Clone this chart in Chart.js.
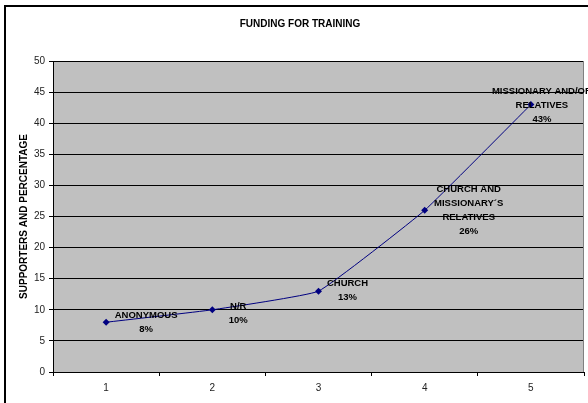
<!DOCTYPE html>
<html lang="en">
<head>
    <meta charset="UTF-8">
    <title>Funding for Training</title>
    <script src="https://cdn.jsdelivr.net/npm/chart.js"></script>
    <style>
        body {
            margin: 0;
            background: #fff;
        }
        canvas {
            display: block;
        }
    </style>
</head>
<body>

    <canvas id="fundingChart" width="588" height="403"></canvas>

    <script>
        // data
        const chartTitle = "FUNDING FOR TRAINING";
        const categories = ["1", "2", "3", "4", "5"];
        const supporters = [8, 10, 13, 26, 43];
        const pointLabels = [
            ["ANONYMOUS", "8%"],
            ["N/R", "10%"],
            ["CHURCH", "13%"],
            ["CHURCH AND", "MISSIONARY\u00B4S", "RELATIVES", "26%"],
            ["MISSIONARY AND/OR", "RELATIVES", "43%"]
        ];
        const yTicks = [0, 5, 10, 15, 20, 25, 30, 35, 40, 45, 50];

        // where each label sits relative to its point (first line centre)
        const labelShift = [[40, -7], [26, -3], [29, -8], [44, -21], [11, -13]];

        const frame = {
            id: "frame",
            beforeDraw(chart) {
                const { ctx, chartArea: a } = chart;
                ctx.save();
                ctx.fillStyle = "#c0c0c0";
                ctx.fillRect(a.left, a.top, a.right - a.left, a.bottom - a.top);
                ctx.strokeStyle = "#000";
                ctx.lineWidth = 2;
                ctx.strokeRect(5, 6, 700, 500);

                // title sits a bit right of the canvas centre, as in the original
                ctx.font = "bold 10px Arial, 'Liberation Sans', sans-serif";
                ctx.fillStyle = "#000";
                ctx.textAlign = "center";
                ctx.textBaseline = "middle";
                ctx.fillText(chartTitle, 300, 24);
                ctx.restore();
            },
            beforeDatasetsDraw(chart) {
                const { ctx, chartArea: a } = chart;
                ctx.save();
                ctx.strokeStyle = "#808080";
                ctx.lineWidth = 1;
                ctx.beginPath();
                ctx.moveTo(Math.round(a.right) - 0.5, a.top);
                ctx.lineTo(Math.round(a.right) - 0.5, a.bottom);
                ctx.stroke();
                ctx.restore();
            }
        };

        const pointText = {
            id: "pointText",
            afterDatasetsDraw(chart) {
                const { ctx } = chart;
                const pts = chart.getDatasetMeta(0).data;
                ctx.save();
                ctx.font = "bold 9.5px Arial, 'Liberation Sans', sans-serif";
                ctx.fillStyle = "#000";
                ctx.textAlign = "center";
                ctx.textBaseline = "middle";
                pts.forEach((p, i) => {
                    const [dx, dy] = labelShift[i];
                    pointLabels[i].forEach((line, j) => {
                        ctx.fillText(line, p.x + dx, p.y + dy + j * 14);
                    });
                });
                ctx.restore();
            }
        };

        new Chart(document.getElementById("fundingChart"), {
            type: "line",
            data: {
                labels: categories,
                datasets: [{
                    label: "Supporters",
                    data: supporters,
                    borderColor: "#000080",
                    backgroundColor: "#000080",
                    borderWidth: 1,
                    tension: 0.1,
                    pointStyle: "rectRot",
                    pointRadius: 3.5,
                    pointBorderWidth: 0,
                    pointBackgroundColor: "#000080"
                }]
            },
            options: {
                responsive: false,
                devicePixelRatio: 1,
                animation: false,
                layout: { padding: { top: 61, left: 0, right: 3, bottom: 0 } },
                scales: {
                    x: {
                        type: "category",
                        offset: true,
                        afterFit(scale) { scale.height = 31; },
                        grid: {
                            offset: true,
                            drawOnChartArea: false,
                            drawTicks: true,
                            tickLength: 4,
                            color: "#000"
                        },
                        border: { color: "#000", width: 1 },
                        ticks: {
                            padding: 6,
                            color: "#222",
                            font: { family: "Arial, 'Liberation Sans'", size: 10 }
                        }
                    },
                    y: {
                        min: 0,
                        max: 50,
                        afterFit(scale) { scale.width = 53; },
                        afterBuildTicks(scale) {
                            scale.ticks = yTicks.map(v => ({ value: v }));
                        },
                        grid: {
                            color: "#000",
                            lineWidth: 1,
                            tickLength: 4,
                            tickColor: "#000"
                        },
                        border: { color: "#000", width: 1 },
                        ticks: {
                            padding: 4,
                            color: "#222",
                            font: { family: "Arial, 'Liberation Sans'", size: 10 }
                        },
                        title: {
                            display: true,
                            text: "SUPPORTERS AND PERCENTAGE",
                            color: "#000",
                            padding: { top: 18, bottom: 0 },
                            font: { family: "Arial, 'Liberation Sans'", size: 10, weight: "bold", lineHeight: 1.2 }
                        }
                    }
                },
                plugins: {
                    legend: { display: false },
                    tooltip: { enabled: false },
                    title: { display: false }
                }
            },
            plugins: [frame, pointText]
        });
    </script>

</body>
</html>
